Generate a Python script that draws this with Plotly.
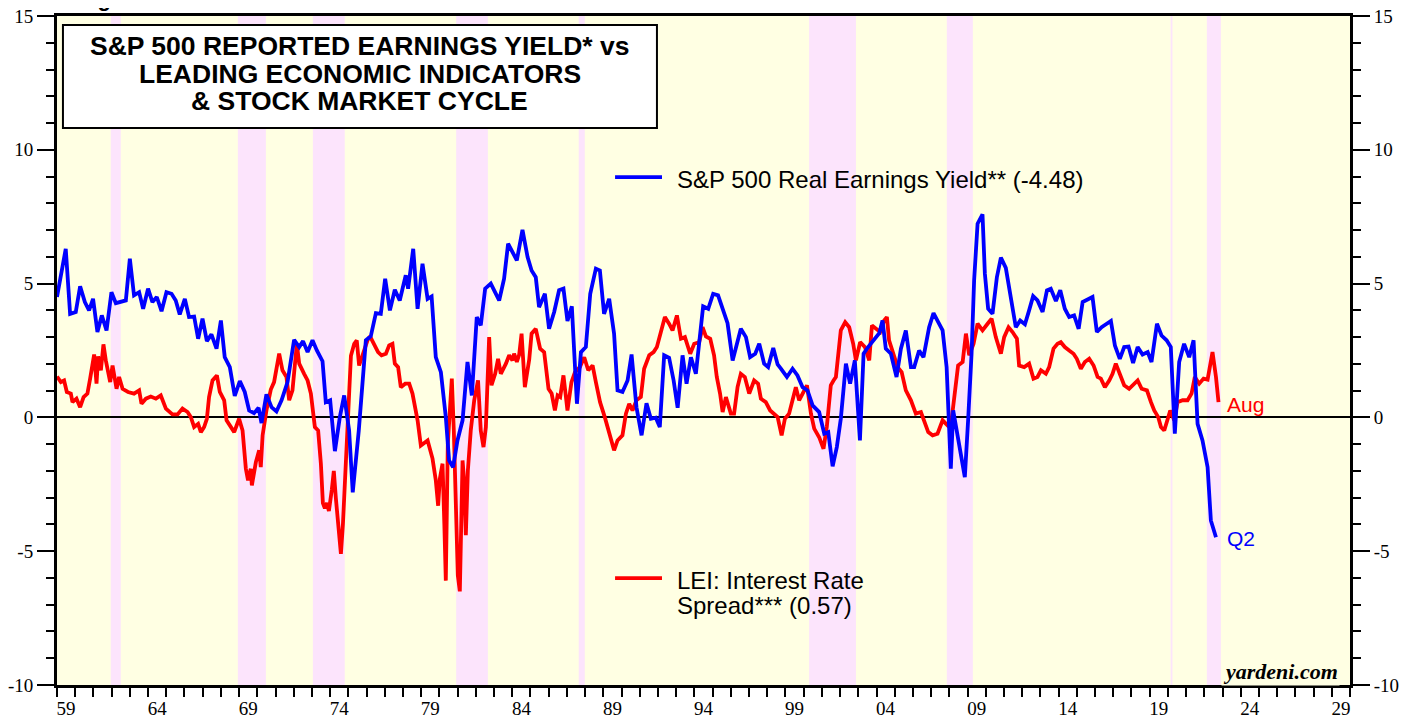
import plotly.graph_objects as go

# ---------------- data ----------------
blue_dates = [1959.0, 1959.48, 1959.72, 1960.03, 1960.27, 1960.53, 1960.76, 1960.98, 1961.22, 1961.46,
              1961.72, 1961.99, 1962.23, 1962.78, 1963.0, 1963.23, 1963.51, 1963.73, 1964.0, 1964.24,
              1964.48, 1964.74, 1965.01, 1965.29, 1965.52, 1965.74, 1966.02, 1966.25, 1966.53, 1966.75,
              1966.99, 1967.23, 1967.48, 1967.76, 1968.0, 1968.21, 1968.49, 1968.76, 1969.04, 1969.31,
              1969.55, 1969.82, 1970.07, 1970.23, 1970.5, 1970.78, 1971.05, 1971.33, 1971.66, 1972.02,
              1972.3, 1972.51, 1972.76, 1973.03, 1973.27, 1973.58, 1973.76, 1974.0, 1974.26, 1974.53,
              1974.77, 1975.04, 1975.24, 1975.57, 1975.96, 1976.23, 1976.51, 1976.78, 1977.02, 1977.28,
              1977.55, 1977.82, 1978.15, 1978.28, 1978.56, 1978.8, 1979.07, 1979.35, 1979.57, 1979.8,
              1980.08, 1980.35, 1980.53, 1980.75, 1980.99, 1981.27, 1981.54, 1981.78, 1982.05, 1982.27,
              1982.51, 1982.82, 1983.28, 1983.55, 1983.77, 1984.25, 1984.56, 1984.84, 1985.06, 1985.29,
              1985.47, 1985.79, 1986.02, 1986.3, 1986.57, 1986.81, 1987.03, 1987.27, 1987.55, 1987.77,
              1988.04, 1988.28, 1988.59, 1988.81, 1989.04, 1989.32, 1989.59, 1989.78, 1990.05, 1990.33,
              1990.55, 1990.82, 1991.1, 1991.37, 1991.61, 1991.88, 1992.1, 1992.34, 1992.61, 1992.86,
              1993.08, 1993.35, 1993.57, 1993.81, 1994.08, 1994.26, 1994.48, 1994.76, 1995.03, 1995.3,
              1995.58, 1995.82, 1996.1, 1996.55, 1996.83, 1997.06, 1997.34, 1997.56, 1997.83, 1998.05,
              1998.33, 1998.57, 1998.75, 1999.08, 1999.39, 1999.66, 1999.94, 2000.21, 2000.49, 2000.85,
              2001.13, 2001.35, 2001.59, 2001.82, 2002.04, 2002.32, 2002.55, 2002.81, 2003.09, 2003.29,
              2003.54, 2003.87, 2004.15, 2004.33, 2004.51, 2004.79, 2005.1, 2005.34, 2005.61, 2005.89,
              2006.07, 2006.34, 2006.58, 2006.89, 2007.13, 2007.39, 2007.63, 2007.85, 2008.08, 2008.21,
              2008.45, 2008.63, 2008.85, 2009.03, 2009.22, 2009.36, 2009.55, 2009.82, 2009.95, 2010.13,
              2010.37, 2010.61, 2010.83, 2011.1, 2011.38, 2011.65, 2011.89, 2012.15, 2012.38, 2012.6,
              2012.84, 2013.12, 2013.36, 2013.57, 2013.85, 2014.09, 2014.34, 2014.58, 2014.85, 2015.1,
              2015.32, 2015.55, 2015.86, 2016.1, 2016.36, 2016.6, 2016.87, 2017.09, 2017.36, 2017.6,
              2017.84, 2018.09, 2018.34, 2018.61, 2018.89, 2019.1, 2019.4, 2019.65, 2019.93, 2020.16,
              2020.38, 2020.62, 2020.89, 2021.17, 2021.41, 2021.63, 2021.9, 2022.18, 2022.36, 2022.64]
blue_values = [4.50, 6.30, 3.87, 3.94, 4.90, 4.31, 4.00, 4.43, 3.19, 3.81,
               3.25, 4.68, 4.27, 4.37, 5.93, 4.56, 4.68, 4.06, 4.81, 4.31,
               4.50, 3.97, 4.68, 4.62, 4.37, 3.85, 4.43, 3.75, 3.77, 2.94,
               3.69, 2.85, 3.10, 2.57, 3.62, 2.25, 1.88, 0.80, 1.36, 0.95,
               0.26, 0.16, 0.36, -0.21, 0.86, 0.38, 0.22, 0.64, 1.32, 2.90,
               2.63, 2.85, 2.44, 2.88, 2.50, 2.10, 0.57, 0.64, -1.26, 0.01,
               0.82, -0.49, -2.80, -0.50, 2.88, 3.03, 3.90, 3.87, 5.18, 4.00,
               4.77, 4.37, 5.31, 4.81, 6.30, 4.06, 5.74, 4.43, 4.52, 2.25,
               1.69, 0.01, -1.61, -1.86, -0.86, -0.11, 2.07, 0.82, 3.75, 3.44,
               4.81, 5.00, 4.37, 5.18, 6.49, 5.87, 7.01, 5.99, 5.49, 5.24,
               4.12, 4.62, 3.31, 3.94, 4.75, 4.81, 3.60, 4.15, 0.51, 2.44,
               2.63, 4.62, 5.56, 5.49, 3.87, 4.43, 3.13, 1.01, 0.95, 1.38,
               2.35, 0.38, -0.67, 0.53, -0.05, -0.01, -0.36, 2.32, 2.23, 1.38,
               0.36, 2.32, 1.26, 2.25, 1.63, 2.88, 4.15, 4.06, 4.62, 4.56,
               3.94, 3.52, 2.13, 3.31, 3.00, 2.25, 2.38, 2.75, 2.01, 1.88,
               2.59, 1.98, 1.82, 1.51, 1.82, 1.57, 1.13, 1.01, 0.45, 0.20,
               -0.61, -0.55, -1.83, -1.11, -0.05, 2.01, 1.26, 2.13, -0.86, 2.38,
               2.63, 2.90, 3.15, 3.62, 2.57, 2.38, 1.51, 2.57, 3.25, 1.88,
               1.88, 2.50, 2.25, 3.37, 3.90, 3.56, 3.25, 1.88, -1.92, 0.26,
               -0.74, -1.48, -2.23, -0.11, 2.38, 5.12, 7.24, 7.59, 5.37, 4.06,
               3.87, 5.24, 5.97, 5.59, 4.37, 3.37, 3.62, 3.48, 4.00, 4.53,
               4.37, 3.94, 4.75, 4.81, 4.35, 4.75, 4.06, 3.75, 3.81, 3.31,
               4.31, 4.40, 4.50, 3.19, 3.37, 3.48, 3.60, 2.69, 2.19, 2.63,
               2.65, 2.03, 2.63, 2.35, 2.44, 2.07, 3.50, 3.06, 2.88, 2.63,
               -0.61, 2.07, 2.75, 2.25, 2.88, -0.24, -0.86, -1.86, -3.85, -4.48]

red_dates = [1959.0, 1959.21, 1959.39, 1959.54, 1959.76, 1959.85, 1960.07, 1960.27, 1960.46, 1960.67,
             1960.82, 1961.04, 1961.17, 1961.26, 1961.41, 1961.55, 1961.68, 1961.92, 1962.05, 1962.27,
             1962.41, 1962.6, 1962.9, 1963.23, 1963.51, 1963.64, 1963.88, 1964.15, 1964.43, 1964.7,
             1964.98, 1965.34, 1965.62, 1965.89, 1966.17, 1966.35, 1966.53, 1966.75, 1966.9, 1967.08,
             1967.23, 1967.35, 1967.54, 1967.78, 1967.94, 1968.18, 1968.31, 1968.54, 1968.73, 1969.0,
             1969.19, 1969.37, 1969.49, 1969.64, 1969.7, 1969.92, 1970.1, 1970.19, 1970.29, 1970.5,
             1970.74, 1970.92, 1971.2, 1971.38, 1971.6, 1971.75, 1971.93, 1972.17, 1972.3, 1972.57,
             1972.76, 1972.94, 1973.16, 1973.34, 1973.49, 1973.6, 1973.71, 1973.82, 1973.93, 1974.09,
             1974.2, 1974.31, 1974.48, 1974.59, 1974.7, 1974.81, 1974.92, 1975.03, 1975.14, 1975.32,
             1975.46, 1975.59, 1975.78, 1976.05, 1976.19, 1976.41, 1976.63, 1976.82, 1977.06, 1977.24,
             1977.42, 1977.55, 1977.73, 1977.88, 1978.12, 1978.34, 1978.52, 1978.8, 1978.98, 1979.35,
             1979.62, 1979.8, 1979.93, 1980.02, 1980.17, 1980.27, 1980.35, 1980.46, 1980.57, 1980.68,
             1980.79, 1980.9, 1981.01, 1981.12, 1981.27, 1981.37, 1981.45, 1981.56, 1981.72, 1981.91,
             1982.12, 1982.27, 1982.42, 1982.55, 1982.73, 1982.86, 1983.06, 1983.22, 1983.37, 1983.65,
             1983.83, 1984.01, 1984.1, 1984.25, 1984.38, 1984.51, 1984.69, 1984.93, 1985.06, 1985.29,
             1985.53, 1985.75, 1985.99, 1986.16, 1986.34, 1986.49, 1986.63, 1986.81, 1987.03, 1987.25,
             1987.44, 1987.71, 1987.95, 1988.17, 1988.41, 1988.59, 1988.82, 1989.08, 1989.32, 1989.59,
             1989.78, 1990.05, 1990.24, 1990.42, 1990.6, 1990.82, 1991.06, 1991.24, 1991.52, 1991.76,
             1991.94, 1992.16, 1992.38, 1992.61, 1992.8, 1993.04, 1993.26, 1993.48, 1993.77, 1993.99,
             1994.26, 1994.45, 1994.63, 1994.87, 1995.08, 1995.23, 1995.41, 1995.55, 1995.73, 1996.0,
             1996.18, 1996.37, 1996.55, 1996.77, 1997.01, 1997.28, 1997.5, 1997.65, 1997.92, 1998.16,
             1998.35, 1998.57, 1998.79, 1998.97, 1999.2, 1999.39, 1999.57, 1999.75, 1999.94, 2000.18,
             2000.4, 2000.58, 2000.85, 2001.09, 2001.27, 2001.49, 2001.64, 2001.77, 2002.04, 2002.28,
             2002.5, 2002.72, 2002.87, 2003.1, 2003.36, 2003.6, 2003.75, 2003.96, 2004.2, 2004.42,
             2004.57, 2004.69, 2004.94, 2005.16, 2005.38, 2005.61, 2005.89, 2006.16, 2006.44, 2006.62,
             2006.84, 2007.08, 2007.35, 2007.63, 2007.9, 2008.12, 2008.26, 2008.48, 2008.73, 2008.91,
             2009.09, 2009.33, 2009.55, 2009.82, 2010.1, 2010.32, 2010.55, 2010.83, 2011.01, 2011.25,
             2011.47, 2011.71, 2011.83, 2012.11, 2012.38, 2012.62, 2012.84, 2013.03, 2013.3, 2013.48,
             2013.72, 2013.94, 2014.12, 2014.34, 2014.58, 2014.82, 2015.0, 2015.22, 2015.44, 2015.68,
             2015.92, 2016.14, 2016.32, 2016.54, 2016.78, 2016.96, 2017.14, 2017.38, 2017.6, 2017.87,
             2018.12, 2018.34, 2018.56, 2018.85, 2019.07, 2019.25, 2019.47, 2019.62, 2019.8, 2019.98,
             2020.13, 2020.35, 2020.53, 2020.81, 2021.08, 2021.3, 2021.48, 2021.72, 2021.96, 2022.18,
             2022.32, 2022.45, 2022.64, 2022.78]
red_values = [1.53, 1.32, 1.38, 0.95, 0.89, 0.57, 0.70, 0.38, 0.76, 0.89,
              1.45, 2.35, 1.26, 2.28, 1.76, 2.73, 2.13, 1.32, 1.94, 1.07,
              1.51, 1.07, 0.95, 0.89, 1.01, 0.51, 0.70, 0.78, 0.70, 0.82,
              0.33, 0.11, 0.11, 0.33, 0.20, 0.01, -0.36, -0.24, -0.55, -0.36,
              -0.05, 0.76, 1.38, 1.57, 0.95, 0.64, -0.11, -0.36, -0.55, -0.05,
              -0.49, -1.92, -2.35, -1.92, -2.54, -1.67, -1.23, -1.86, -0.67, 0.26,
              1.04, 1.32, 2.38, 1.76, 1.51, 0.64, 1.01, 2.75, 2.01, 1.63,
              1.38, 0.89, -0.36, -0.49, -1.73, -3.20, -3.40, -3.20, -3.50, -2.70,
              -2.00, -3.00, -4.50, -5.10, -4.00, -2.50, -0.50, 1.00, 2.30, 2.75,
              2.88, 1.94, 2.32, 2.88, 3.03, 2.75, 2.44, 2.32, 2.38, 2.69,
              2.75, 2.01, 1.88, 1.13, 1.26, 1.26, 0.89, -0.11, -1.05, -0.86,
              -1.54, -2.35, -3.30, -2.30, -1.73, -4.00, -6.10, -1.00, 0.50, 1.45,
              -0.50, -3.50, -5.90, -6.50, -1.61, -2.50, -4.40, -2.00, -0.49, 0.64,
              1.38, -0.49, -1.11, -0.36, 3.00, 1.20, 1.63, 2.19, 1.63, 2.01,
              2.32, 2.13, 2.38, 2.07, 2.35, 3.13, 1.13, 2.16, 3.13, 3.31,
              2.57, 2.44, 1.07, 0.89, 0.26, 0.82, 0.76, 1.57, 0.26, 1.32,
              1.69, 1.88, 2.25, 1.76, 1.94, 1.32, 0.57, 0.01, -0.61, -1.23,
              -0.86, -0.67, 0.14, 0.51, 0.26, 0.64, 0.76, 1.82, 2.32, 2.44,
              2.63, 3.13, 3.75, 3.50, 3.25, 3.81, 2.94, 3.00, 2.38, 2.75,
              2.81, 3.37, 3.03, 2.94, 2.32, 1.51, 0.89, 0.20, 0.76, 0.14,
              0.14, 1.13, 1.63, 1.51, 0.89, 1.38, 1.26, 0.70, 0.57, 0.26,
              0.14, 0.01, -0.67, -0.05, 0.14, 0.70, 1.13, 0.64, 0.89, 1.20,
              0.14, -0.42, -0.74, -1.17, -0.36, 1.20, 1.38, 1.51, 3.25, 3.56,
              3.37, 2.75, 2.13, 2.81, 2.63, 2.13, 3.44, 3.31, 3.19, 3.62,
              3.75, 2.88, 2.38, 1.88, 1.69, 1.01, 0.64, 0.14, 0.20, -0.11,
              -0.55, -0.67, -0.61, -0.11, -0.30, -0.11, 0.76, 1.94, 2.07, 3.13,
              2.32, 2.75, 3.50, 3.25, 3.50, 3.69, 3.00, 2.38, 3.00, 3.37,
              3.19, 2.94, 1.94, 1.88, 2.01, 1.45, 1.51, 1.76, 1.63, 1.88,
              2.57, 2.75, 2.81, 2.63, 2.50, 2.38, 2.19, 1.82, 2.07, 2.19,
              1.94, 1.51, 1.45, 1.13, 1.38, 1.63, 2.01, 1.63, 1.20, 1.07,
              1.26, 1.38, 1.07, 1.01, 0.57, 0.26, 0.01, -0.36, -0.49, -0.11,
              0.26, -0.11, 0.57, 0.64, 0.64, 0.89, 1.51, 1.26, 1.45, 1.41,
              2.01, 2.44, 1.51, 0.57]

# shaded periods (bear markets)
band_starts = [1961.95, 1968.93, 1973.05, 1980.92, 1987.65, 2000.30, 2007.86, 2020.15, 2022.14]
band_ends = [1962.50, 1970.47, 1974.80, 1982.66, 1987.98, 2002.87, 2009.29, 2020.25, 2022.91]

x_label_years = list(range(1959, 2030, 5))
x_label_text = ["%02d" % (y % 100) for y in x_label_years]
y_tick_vals = [-10, -5, 0, 5, 10, 15]
y_tick_text = ["-10", "-5", "0", "5", "10", "15"]

title_lines = ["S&P 500 REPORTED EARNINGS YIELD* vs",
               "LEADING ECONOMIC INDICATORS",
               "& STOCK MARKET CYCLE"]
blue_label = "S&P 500 Real Earnings Yield** (-4.48)"
red_label_lines = ["LEI: Interest Rate", "Spread*** (0.57)"]

# ---------------- style ----------------
BLUE = "#0000FF"
RED = "#FF0000"
PLOT_BG = "#FFFFE3"
BAND = "#FCE4FC"
SANS = "Liberation Sans, Arial, sans-serif"
SERIF = "Liberation Serif, Times New Roman, serif"

fig = go.Figure()
fig.add_trace(go.Scatter(x=red_dates, y=red_values, mode="lines",
                         line=dict(color=RED, width=3.8), yaxis="y",
                         showlegend=False, hoverinfo="skip"))
fig.add_trace(go.Scatter(x=blue_dates, y=blue_values, mode="lines",
                         line=dict(color=BLUE, width=3.8), yaxis="y2",
                         showlegend=False, hoverinfo="skip"))

shapes = []
for s, e in zip(band_starts, band_ends):
    shapes.append(dict(type="rect", xref="x", yref="paper", x0=s, x1=e, y0=0, y1=1,
                       fillcolor=BAND, line=dict(width=0), layer="below"))
# title box
shapes.append(dict(type="rect", xref="paper", yref="paper", x0=0.0046, x1=0.464,
                   y0=0.8326, y1=0.9865, fillcolor="white",
                   line=dict(color="black", width=2), layer="above"))
# legend swatches
shapes.append(dict(type="line", xref="paper", yref="paper", x0=0.4316, x1=0.4679,
                   y0=0.7593, y1=0.7593, line=dict(color=BLUE, width=3.8)))
shapes.append(dict(type="line", xref="paper", yref="paper", x0=0.4316, x1=0.4679,
                   y0=0.1599, y1=0.1599, line=dict(color=RED, width=3.8)))

annotations = []
for txt, yy in zip(title_lines, [0.9552, 0.9133, 0.8729]):
    annotations.append(dict(text="<b>%s</b>" % txt, xref="paper", yref="paper",
                            x=0.2343, y=yy, xanchor="center", yanchor="middle",
                            showarrow=False, font=dict(family=SANS, size=26.5, color="black")))
annotations.append(dict(text=blue_label, xref="paper", yref="paper", x=0.478, y=0.7549,
                        xanchor="left", yanchor="middle", showarrow=False,
                        font=dict(family=SANS, size=24, color="black")))
for txt, yy in zip(red_label_lines, [0.1555, 0.1181]):
    annotations.append(dict(text=txt, xref="paper", yref="paper", x=0.478, y=yy,
                            xanchor="left", yanchor="middle", showarrow=False,
                            font=dict(family=SANS, size=24, color="black")))
annotations.append(dict(text="Aug", xref="x", yref="y", x=red_dates[-1], y=red_values[-1],
                        xanchor="left", yanchor="middle", xshift=6, yshift=-2,
                        showarrow=False, font=dict(family=SANS, size=21, color=RED)))
annotations.append(dict(text="Q2", xref="x", yref="y", x=blue_dates[-1], y=blue_values[-1],
                        xanchor="left", yanchor="middle", xshift=9, yshift=-1,
                        showarrow=False, font=dict(family=SANS, size=21, color=BLUE)))
annotations.append(dict(text="<b><i>yardeni.com</i></b>", xref="paper", yref="paper",
                        x=0.9923, y=0.0209, xanchor="right", yanchor="middle",
                        showarrow=False, bgcolor=PLOT_BG,
                        font=dict(family=SERIF, size=22, color="black")))
# clipped fragment of a heading above the chart
annotations.append(dict(text="<b>ng</b>", xref="paper", yref="paper", x=0.031, y=1.0045,
                        xanchor="center", yanchor="bottom", showarrow=False,
                        font=dict(family=SANS, size=22, color="black")))

yaxis_common = dict(range=[-10, 15], tickvals=y_tick_vals, ticktext=y_tick_text,
                    ticks="outside", ticklen=17, tickwidth=2, tickcolor="black",
                    minor=dict(tick0=-10, dtick=1, ticks="outside", ticklen=8, tickwidth=2,
                               tickcolor="black", showgrid=False),
                    showgrid=False, showline=True, linewidth=3, linecolor="black",
                    automargin=False, ticklabeloverflow="allow",
                    tickfont=dict(family=SERIF, size=19, color="black"), fixedrange=True)

# the page body adds an 8px offset; the figure is sized so that the whole page is 1417x717
fig.update_layout(
    width=1409, height=709,
    margin=dict(l=49, r=67, t=8, b=32, pad=0, autoexpand=False),
    paper_bgcolor="white", plot_bgcolor=PLOT_BG,
    showlegend=False,
    xaxis=dict(range=[1959, 2030], tickvals=[y + 0.5 for y in x_label_years],
               ticktext=x_label_text, ticks="outside", ticklen=4,
               tickcolor="rgba(0,0,0,0)",
               minor=dict(tick0=1959, dtick=1, ticks="outside", ticklen=9, tickwidth=2,
                          tickcolor="black", showgrid=False),
               showgrid=False, showline=True, linewidth=3, linecolor="black", mirror=True,
               zeroline=False, automargin=False, ticklabeloverflow="allow",
               tickfont=dict(family=SERIF, size=19, color="black"),
               fixedrange=True),
    yaxis=dict(**yaxis_common, side="left", mirror=True,
               zeroline=True, zerolinecolor="black", zerolinewidth=1.5),
    yaxis2=dict(**yaxis_common, side="right", overlaying="y", anchor="x", zeroline=False),
    shapes=shapes,
    annotations=annotations,
)

fig.write_html("out.html")
